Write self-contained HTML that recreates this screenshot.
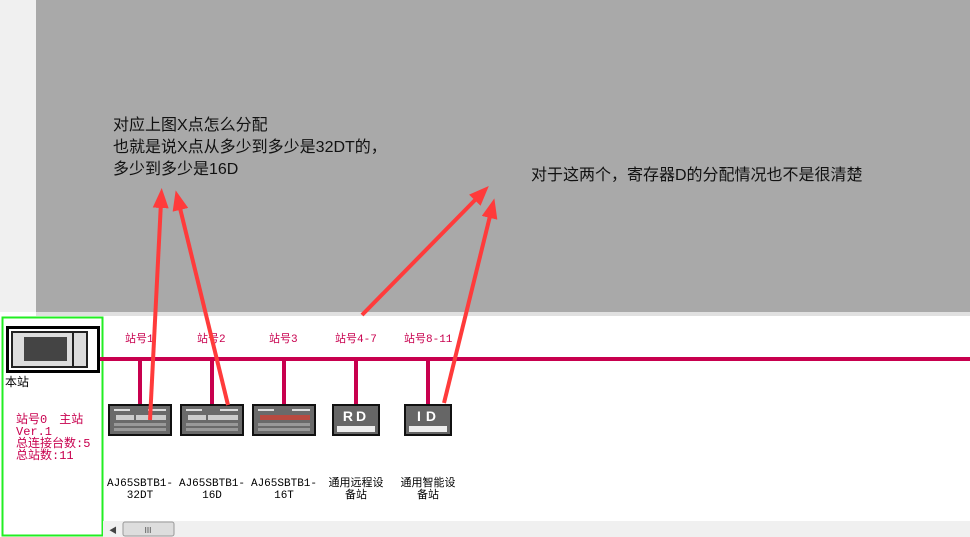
<!DOCTYPE html>
<html><head><meta charset="utf-8"><style>
body{margin:0;width:970px;height:537px;overflow:hidden;background:#fff;font-family:"Liberation Sans","Noto Sans CJK SC",sans-serif}
</style></head><body>
<svg width="970" height="537" xmlns="http://www.w3.org/2000/svg" style="position:absolute;left:0;top:0">
<defs>
<marker id="ah" markerWidth="5" markerHeight="4" refX="1.5" refY="2" orient="auto" markerUnits="strokeWidth"><path d="M0,0 L5,2 L0,4 Z" fill="#ff3b3b"/></marker>
<g id="dev">
<rect x="0" y="0" width="64" height="32" fill="#111"/>
<rect x="2" y="2" width="60" height="28" fill="#6a6a6a"/>
<rect x="6" y="5" width="16" height="2" fill="#ddd"/><rect x="40" y="5" width="18" height="2" fill="#ddd"/>
<rect x="8" y="11" width="18" height="5" fill="#ccc"/><rect x="28" y="11" width="30" height="5" fill="#ccc"/>
<rect x="6" y="19" width="52" height="3" fill="#999"/><rect x="6" y="24" width="52" height="3" fill="#999"/>
</g>
</defs>
<rect x="0" y="0" width="36" height="312" fill="#f0f0f0"/>
<rect x="36" y="0" width="934" height="312" fill="#a9a9a9"/>
<rect x="36" y="312" width="934" height="4" fill="#e0e0e0"/>
<g font-size="16" fill="#111">
<text x="113" y="130">对应上图X点怎么分配</text>
<text x="113" y="152">也就是说X点从多少到多少是32DT的，</text>
<text x="113" y="174">多少到多少是16D</text>
<text x="531" y="180">对于这两个，寄存器D的分配情况也不是很清楚</text>
</g>
<rect x="2.5" y="317.5" width="100" height="218" fill="none" stroke="#22ee22" stroke-width="2"/>
<rect x="6" y="326" width="94" height="47" fill="#000"/>
<rect x="9" y="329" width="88" height="41" fill="#fff"/>
<rect x="11" y="331" width="77" height="37" fill="#222"/>
<rect x="13" y="333" width="73" height="33" fill="#ddd"/>
<rect x="24" y="337" width="43" height="24" fill="#444"/>
<rect x="72" y="333" width="2" height="33" fill="#222"/>
<text x="5" y="386" font-size="12" fill="#000">本站</text>
<g font-size="12" fill="#c8004e" font-family="Liberation Mono,'Noto Sans CJK SC',monospace">
<text x="16" y="423">站号0　主站</text>
<text x="16" y="435">Ver.1</text>
<text x="16" y="447">总连接台数:5</text>
<text x="16" y="459">总站数:11</text>
</g>
<rect x="100" y="357" width="870" height="4" fill="#c8004e"/>
<g fill="#c8004e"><rect x="138" y="361" width="4" height="43"/><rect x="210" y="361" width="4" height="43"/><rect x="282" y="361" width="4" height="43"/><rect x="354" y="361" width="4" height="43"/><rect x="426" y="361" width="4" height="43"/></g>
<g font-size="11" fill="#c8004e" font-family="Liberation Mono,'Noto Sans CJK SC',monospace">
<text x="125" y="342">站号1</text><text x="197" y="342">站号2</text><text x="269" y="342">站号3</text>
<text x="335" y="342">站号4-7</text><text x="404" y="342">站号8-11</text>
</g>
<use href="#dev" x="108" y="404"/><use href="#dev" x="180" y="404"/><use href="#dev" x="252" y="404"/>
<rect x="260" y="415" width="50" height="5" fill="#b84a40"/>
<rect x="332" y="404" width="48" height="32" fill="#111"/><rect x="334" y="406" width="44" height="28" fill="#666"/><rect x="337" y="426" width="38" height="6" fill="#eee"/>
<text x="356" y="421" font-size="14" font-weight="bold" fill="#fff" text-anchor="middle" letter-spacing="3">RD</text>
<rect x="404" y="404" width="48" height="32" fill="#111"/><rect x="406" y="406" width="44" height="28" fill="#666"/><rect x="409" y="426" width="38" height="6" fill="#eee"/>
<text x="429" y="421" font-size="14" font-weight="bold" fill="#fff" text-anchor="middle" letter-spacing="5">ID</text>
<g font-size="11" fill="#000" text-anchor="middle" font-family="Liberation Mono,'Noto Sans CJK SC',monospace">
<text x="140" y="486">AJ65SBTB1-</text><text x="140" y="498">32DT</text>
<text x="212" y="486">AJ65SBTB1-</text><text x="212" y="498">16D</text>
<text x="284" y="486">AJ65SBTB1-</text><text x="284" y="498">16T</text>
<text x="356" y="486">通用远程设</text><text x="356" y="498">备站</text>
<text x="428" y="486">通用智能设</text><text x="428" y="498">备站</text>
</g>
<rect x="103" y="521" width="867" height="16" fill="#f0f0f0"/>
<text x="109" y="533" font-size="8" fill="#444">◀</text>
<rect x="123" y="522" width="51" height="14" rx="2" fill="#ddd" stroke="#999"/>
<text x="148" y="533" font-size="8" fill="#444" text-anchor="middle">III</text>
<g stroke="#ff3b3b" stroke-width="4" fill="none" marker-end="url(#ah)">
<line x1="150" y1="420" x2="161" y2="202"/>
<line x1="228" y1="405" x2="179" y2="204"/>
<line x1="362" y1="315" x2="479" y2="196"/>
<line x1="444" y1="403" x2="491" y2="212"/>
</g>
</svg>
</body></html>
